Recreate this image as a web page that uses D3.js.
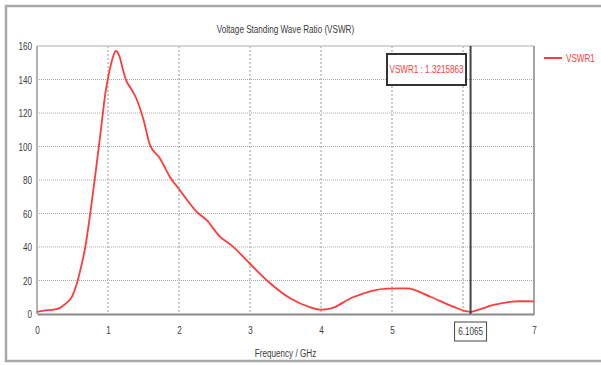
<!DOCTYPE html>
<html><head><meta charset="utf-8">
<script src="https://cdn.jsdelivr.net/npm/d3@7/dist/d3.min.js"></script>
<style>
body{margin:0;background:#fff;}
text{font-family:"Liberation Sans","DejaVu Sans",sans-serif;}
</style></head><body>
<svg id="c" width="601" height="365"></svg>
<script>
const freq = [0, 0.1, 0.2, 0.3, 0.4, 0.5, 0.56, 0.62, 0.68, 0.75, 0.83, 0.9, 0.96, 1.01, 1.06, 1.11, 1.16, 1.21, 1.26, 1.31, 1.40, 1.50, 1.59, 1.73, 1.87, 2.01, 2.25, 2.39, 2.58, 2.74, 3.0, 3.28, 3.56, 3.85, 4.0, 4.13, 4.45, 4.93, 5.21, 5.54, 5.86, 6.05, 6.11, 6.19, 6.43, 6.69, 6.8, 7.0];
const vswr = [1.2, 2, 2.5, 3.2, 6, 11, 18, 28, 40, 60, 86, 110, 131, 143, 152, 157, 154, 146, 139, 135.5, 128.5, 116, 101, 93, 82, 74, 61, 56, 46, 41, 30, 18.5, 9.5, 4, 2.6, 3.2, 10, 15.2, 15.3, 10.3, 4.4, 1.6, 1.32, 2.2, 5.4, 7.4, 7.6, 7.5];
const xTicks = [0, 1, 2, 3, 4, 5, 7];
const yTicks = [0, 20, 40, 60, 80, 100, 120, 140, 160];
const markerFreq = [6.1065];
const markerLabel = ["6.1065"];
const seriesName = ["VSWR1"];
const markerValue = ["1.3215863"];
const title = "Voltage Standing Wave Ratio (VSWR)";
const xLabel = "Frequency / GHz";

const svg = d3.select("#c");
const L = 37, R = 534, T = 46, B = 314;
const x = d3.scaleLinear().domain([0, 7]).range([L, R]);
const y = d3.scaleLinear().domain([0, 160]).range([B, T]);
const red = "#ff3a3a", txt = "#3a3a3a";

// outer frame (top, left, bottom edges; the right edge lies outside the picture)
svg.append("path").attr("d", "M601,6H6V361H601")
  .attr("fill", "none").attr("stroke", "#a8a8a8").attr("stroke-width", 2.5);

// title
svg.append("text").attr("x", (L + R) / 2).attr("y", 33).attr("text-anchor", "middle")
  .attr("font-size", 11).attr("fill", txt).text(title);

// grid
const grid = svg.append("g");
grid.selectAll(".gx").data(d3.range(1, 7)).join("line")
  .attr("x1", d => x(d)).attr("x2", d => x(d)).attr("y1", T).attr("y2", B)
  .attr("stroke", "#999").attr("stroke-width", 1).attr("stroke-dasharray", "2,2");
grid.selectAll(".gy").data(d3.range(20, 160, 20)).join("line")
  .attr("x1", L).attr("x2", R).attr("y1", d => y(d)).attr("y2", d => y(d))
  .attr("stroke", "#aaa").attr("stroke-width", 1).attr("stroke-dasharray", "1,1");

// plot borders
svg.append("line").attr("x1", L).attr("x2", R).attr("y1", T).attr("y2", T).attr("stroke", "#c8c8c8").attr("stroke-width", 1.5);
svg.append("line").attr("x1", R).attr("x2", R).attr("y1", T).attr("y2", B).attr("stroke", "#888").attr("stroke-width", 1.5);
svg.append("line").attr("x1", L).attr("x2", L).attr("y1", T).attr("y2", B).attr("stroke", "#999").attr("stroke-width", 1.5);

// axes
const xAxis = svg.append("g").attr("transform", `translate(0,${B})`)
  .call(d3.axisBottom(x).tickValues(xTicks).tickSize(0).tickPadding(12).tickFormat(d3.format("d")));
xAxis.select(".domain").attr("stroke", "#888").attr("stroke-width", 2);
xAxis.selectAll("text").attr("font-size", 11).attr("fill", txt);

const yAxis = svg.append("g").attr("transform", `translate(${L},0)`)
  .call(d3.axisLeft(y).tickValues(yTicks).tickSize(0).tickPadding(5));
yAxis.select(".domain").remove();
yAxis.selectAll("text").attr("font-size", 11).attr("fill", txt);

// x label
svg.append("text").attr("x", (L + R) / 2).attr("y", 357).attr("text-anchor", "middle")
  .attr("font-size", 11).attr("fill", txt).text(xLabel);

// curve
const pts = freq.map((f, i) => [f, vswr[i]]);
svg.append("path").datum(pts)
  .attr("d", d3.line().x(d => x(d[0])).y(d => y(d[1])).curve(d3.curveMonotoneX))
  .attr("fill", "none").attr("stroke", red).attr("stroke-width", 1.8);

// marker line
const mx = x(markerFreq[0]);
svg.append("line").attr("x1", mx).attr("x2", mx)
  .attr("y1", T).attr("y2", B).attr("stroke", "#444").attr("stroke-width", 2);

// marker label box
svg.append("rect").attr("x", mx - 16).attr("y", 322).attr("width", 32).attr("height", 19)
  .attr("fill", "#fff").attr("stroke", "#444").attr("stroke-width", 1);
svg.append("text").attr("x", mx).attr("y", 335.5).attr("text-anchor", "middle")
  .attr("font-size", 11).attr("fill", txt).text(markerLabel[0]);

// annotation box
svg.append("rect").attr("x", 387).attr("y", 54).attr("width", 79).attr("height", 31)
  .attr("fill", "#fff").attr("stroke", "#333").attr("stroke-width", 2);
svg.append("text").attr("x", 426.5).attr("y", 73.5).attr("text-anchor", "middle")
  .attr("font-size", 11).attr("fill", red).text(`${seriesName[0]} : ${markerValue[0]}`);

// legend
svg.append("line").attr("x1", 544).attr("x2", 562).attr("y1", 58).attr("y2", 58)
  .attr("stroke", red).attr("stroke-width", 2);
svg.append("text").attr("x", 566).attr("y", 62)
  .attr("font-size", 11).attr("fill", red).text(seriesName[0]);

// condense all text horizontally (about its anchor x) to mimic the narrow source font
svg.selectAll("text").each(function () {
  const ax = +(this.getAttribute("x") || 0);
  d3.select(this).attr("transform", `translate(${ax},0) scale(0.74,1) translate(${-ax},0)`);
});
</script>
</body></html>
